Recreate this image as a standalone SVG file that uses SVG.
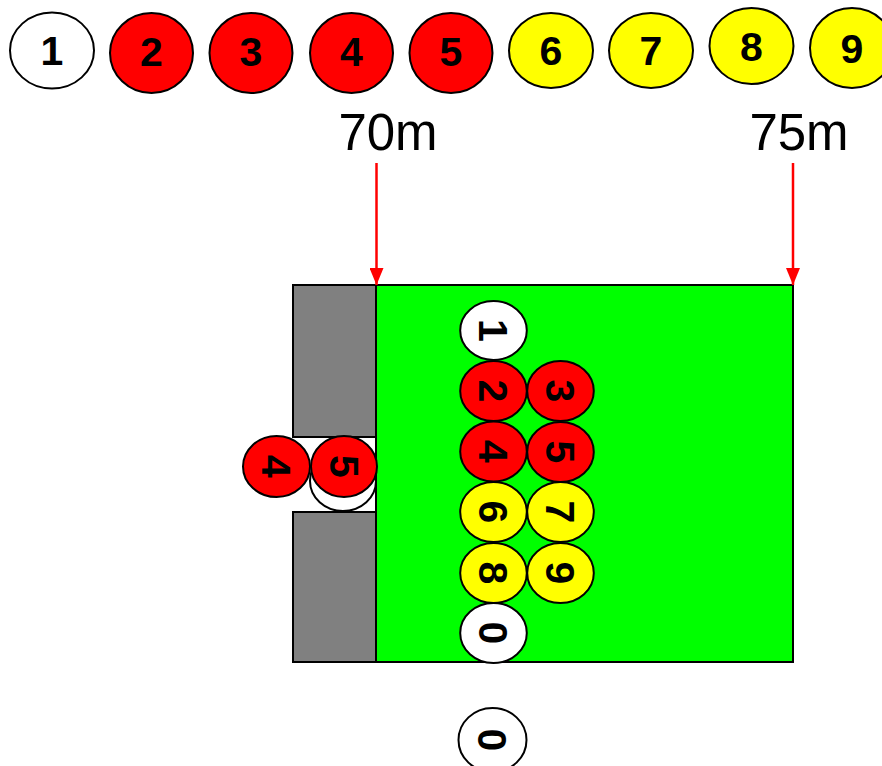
<svg xmlns="http://www.w3.org/2000/svg" width="882" height="766" viewBox="0 0 882 766">
<defs>
<style>
.e{stroke:#000;stroke-width:2}
.w{fill:#fff}.r{fill:#f00}.y{fill:#ff0}
.t{font-family:"Liberation Sans",Arial,sans-serif;font-weight:bold;font-size:41px;text-anchor:middle;fill:#000}
.lbl{font-family:"Liberation Sans",Arial,sans-serif;font-size:51px;text-anchor:middle;fill:#000}
.arr{stroke:#f00;stroke-width:2.5;fill:none}
</style>
<marker id="ah" markerWidth="17" markerHeight="14" refX="17" refY="7" orient="auto" markerUnits="userSpaceOnUse" viewBox="0 0 17 14">
<path d="M0,0 L17,7 L0,14 Z" fill="#f00"/>
</marker>
</defs>
<rect width="882" height="766" fill="#fff"/>

<g id="top-row">
<g id="t1"><ellipse class="e w" cx="52" cy="50.5" rx="42" ry="38"/><text class="t" x="52" y="65">1</text></g>
<g id="t2"><ellipse class="e r" cx="151.5" cy="53" rx="41.5" ry="40"/><text class="t" x="151.5" y="66">2</text></g>
<g id="t3"><ellipse class="e r" cx="251" cy="53" rx="41.5" ry="40"/><text class="t" x="251" y="66">3</text></g>
<g id="t4"><ellipse class="e r" cx="351.5" cy="53" rx="41.5" ry="40"/><text class="t" x="351.5" y="66">4</text></g>
<g id="t5"><ellipse class="e r" cx="451" cy="53" rx="41.5" ry="40"/><text class="t" x="451" y="66">5</text></g>
<g id="t6"><ellipse class="e y" cx="551" cy="50.5" rx="42" ry="37.5"/><text class="t" x="551" y="65">6</text></g>
<g id="t7"><ellipse class="e y" cx="651" cy="50.5" rx="42" ry="37.5"/><text class="t" x="651" y="65">7</text></g>
<g id="t8"><ellipse class="e y" cx="751.5" cy="46" rx="42" ry="38"/><text class="t" x="751.5" y="61">8</text></g>
<g id="t9"><ellipse class="e y" cx="852" cy="48" rx="42" ry="40"/><text class="t" x="852" y="63">9</text></g>
</g>

<g id="labels">
<text class="lbl" x="388" y="150">70m</text>
<text class="lbl" x="799" y="150">75m</text>
</g>

<g id="field">
<rect id="gray-top" x="293" y="285" width="83" height="152" fill="#808080" stroke="#000" stroke-width="2"/>
<rect id="gray-bottom" x="293" y="512" width="83" height="150" fill="#808080" stroke="#000" stroke-width="2"/>
<rect id="green" x="376" y="285" width="417" height="377" fill="#0f0" stroke="#000" stroke-width="2"/>
</g>

<g id="side">
<g id="s0"><ellipse class="e w" cx="343" cy="481" rx="33" ry="30"/></g>
<g id="s4"><ellipse class="e r" cx="276.5" cy="466.5" rx="33.5" ry="30.5"/><text class="t" transform="translate(276.5,466.5) rotate(90)" x="0" y="14.5">4</text></g>
<g id="s5"><ellipse class="e r" cx="344" cy="466.5" rx="33" ry="30.5"/><text class="t" transform="translate(344,466.5) rotate(90)" x="0" y="14.5">5</text></g>
</g>

<g id="grid">
<g id="g1"><ellipse class="e w" cx="493.5" cy="330.5" rx="33.3" ry="29.5"/><text class="t" transform="translate(493.5,330.5) rotate(90)" x="0" y="14.5">1</text></g>
<g id="g2"><ellipse class="e r" cx="493.5" cy="391" rx="33.3" ry="30"/><text class="t" transform="translate(493.5,391) rotate(90)" x="0" y="14.5">2</text></g>
<g id="g3"><ellipse class="e r" cx="560.5" cy="391" rx="33.3" ry="30"/><text class="t" transform="translate(560.5,391) rotate(90)" x="0" y="14.5">3</text></g>
<g id="g4"><ellipse class="e r" cx="493.5" cy="451.5" rx="33.3" ry="30"/><text class="t" transform="translate(493.5,451.5) rotate(90)" x="0" y="14.5">4</text></g>
<g id="g5"><ellipse class="e r" cx="560.5" cy="452" rx="33.3" ry="30"/><text class="t" transform="translate(560.5,452) rotate(90)" x="0" y="14.5">5</text></g>
<g id="g6"><ellipse class="e y" cx="493.5" cy="512" rx="33.3" ry="30"/><text class="t" transform="translate(493.5,512) rotate(90)" x="0" y="14.5">6</text></g>
<g id="g7"><ellipse class="e y" cx="560.5" cy="512" rx="33.3" ry="30"/><text class="t" transform="translate(560.5,512) rotate(90)" x="0" y="14.5">7</text></g>
<g id="g8"><ellipse class="e y" cx="493.5" cy="573" rx="33.3" ry="30"/><text class="t" transform="translate(493.5,573) rotate(90)" x="0" y="14.5">8</text></g>
<g id="g9"><ellipse class="e y" cx="560.5" cy="573" rx="33.3" ry="30"/><text class="t" transform="translate(560.5,573) rotate(90)" x="0" y="14.5">9</text></g>
<g id="g0"><ellipse class="e w" cx="493.5" cy="633" rx="33.3" ry="30"/><text class="t" transform="translate(493.5,633) rotate(90)" x="0" y="14.5">0</text></g>
</g>

<g id="b0"><ellipse class="e w" cx="492.5" cy="740" rx="34" ry="32"/><text class="t" transform="translate(492.5,740) rotate(90)" x="0" y="14.5">0</text></g>

<g id="connectors">
<line class="arr" x1="376.5" y1="163" x2="376.5" y2="285" marker-end="url(#ah)"/>
<line class="arr" x1="793" y1="163" x2="793" y2="285" marker-end="url(#ah)"/>
</g>
</svg>
